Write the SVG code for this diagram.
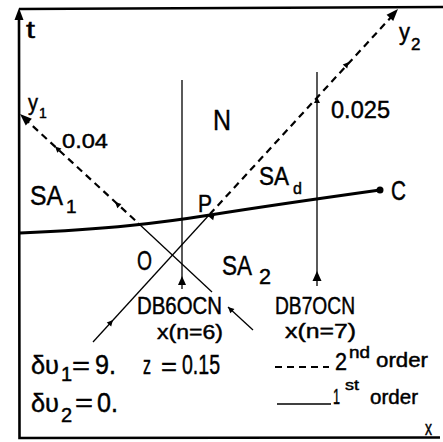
<svg xmlns="http://www.w3.org/2000/svg" width="443" height="442" viewBox="0 0 443 442">
<style>
text{font-family:"Liberation Sans",Arial,sans-serif;fill:#000;stroke:#000;stroke-width:0.45}
.frame{stroke:#000;stroke-width:2.6;fill:none}
.thin{stroke:#000;stroke-width:1.3;fill:none}
.dash{stroke:#000;stroke-width:2.2;fill:none;stroke-dasharray:7 5}
.curve{stroke:#000;stroke-width:2.8;fill:none}
</style>
<defs>
<path id="big" d="M0,0 L-12,-4.5 L-12,4.5 Z" fill="#000"/>
<path id="sm" d="M0,0 L-6,-3 L-6,3 Z" fill="#000"/>
</defs>
<rect width="443" height="442" fill="#fff"/>
<g id="axes">
<path class="frame" d="M19,20 L19.5,438 L440,437.5"/>
<path class="frame" d="M19,9 L443,7"/>
<use href="#big" transform="translate(19,8) rotate(-90)"/>
</g>
<g id="connectors">
<path class="dash" d="M24,118 L138,223"/>
<path class="thin" d="M138,223 L212,292"/>
<path class="thin" d="M228,307 L253,330"/>
<path class="dash" d="M393,15 L210,214"/>
<path class="thin" d="M210,214 L93,342"/>
<path class="thin" d="M182,80 L182,289"/>
<path class="thin" d="M317,72 L317,286"/>
<use href="#big" transform="translate(20,114) rotate(-137.2)"/>
<use href="#big" transform="translate(398,9) rotate(-47.5)"/>
<use href="#sm" transform="translate(55,146.5) rotate(-137.2)"/>
<use href="#sm" transform="translate(115,202) rotate(-137.2)"/>
<use href="#sm" transform="translate(228,307) rotate(-137.2)"/>
<use href="#sm" transform="translate(349,62) rotate(-47.5)"/>
<use href="#sm" transform="translate(113,320) rotate(-47.5)"/>
<use href="#sm" transform="translate(208,216) rotate(-167)"/>
<use href="#sm" transform="translate(317,97) rotate(-90)"/>
<path d="M182,276 L178,285 L186,285 Z" fill="#000"/>
<path d="M317,271 L312.5,281 L321.5,281 Z" fill="#000"/>
</g>
<g id="curveC">
<path class="curve" d="M20,233 C110,229 160,223 210,215 S330,197 380,190"/>
<circle cx="380" cy="190" r="3.5" fill="#000"/>
</g>
<g id="labels">
<text x="26" y="38" font-size="24" textLength="9" lengthAdjust="spacingAndGlyphs">t</text>
<text x="28" y="110" font-size="22" textLength="10" lengthAdjust="spacingAndGlyphs">y</text>
<text x="39" y="118" font-size="14">1</text>
<text x="62" y="148" font-size="21" textLength="46" lengthAdjust="spacingAndGlyphs">0.04</text>
<text x="213" y="130" font-size="30" textLength="18" lengthAdjust="spacingAndGlyphs">N</text>
<text x="331" y="118" font-size="24" textLength="59" lengthAdjust="spacingAndGlyphs">0.025</text>
<text x="399" y="40" font-size="24" textLength="11" lengthAdjust="spacingAndGlyphs">y</text>
<text x="411" y="50" font-size="17">2</text>
<text x="30" y="205" font-size="28" textLength="33" lengthAdjust="spacingAndGlyphs">SA</text>
<text x="66" y="213" font-size="19">1</text>
<text x="259" y="185" font-size="26" textLength="30" lengthAdjust="spacingAndGlyphs">SA</text>
<text x="293" y="194" font-size="16">d</text>
<text x="198" y="212" font-size="23" textLength="14" lengthAdjust="spacingAndGlyphs">P</text>
<text x="137" y="270" font-size="28" textLength="15" lengthAdjust="spacingAndGlyphs">O</text>
<text x="391" y="200" font-size="28" textLength="15" lengthAdjust="spacingAndGlyphs">C</text>
<text x="222" y="275" font-size="28" textLength="30" lengthAdjust="spacingAndGlyphs">SA</text>
<text x="259" y="284" font-size="22" textLength="12" lengthAdjust="spacingAndGlyphs">2</text>
<text x="137" y="314" font-size="24" textLength="85" lengthAdjust="spacingAndGlyphs">DB6OCN</text>
<text x="157" y="339" font-size="21" textLength="66" lengthAdjust="spacingAndGlyphs">x(n=6)</text>
<text x="275" y="314" font-size="24" textLength="80" lengthAdjust="spacingAndGlyphs">DB7OCN</text>
<text x="285" y="338" font-size="21" textLength="71" lengthAdjust="spacingAndGlyphs">x(n=7)</text>
<text x="31" y="374" font-size="26" textLength="28" lengthAdjust="spacingAndGlyphs">δυ</text>
<text x="61" y="381" font-size="20">1</text>
<text x="72" y="374" font-size="26" textLength="18" lengthAdjust="spacingAndGlyphs">=</text>
<text x="95" y="374" font-size="27" textLength="21" lengthAdjust="spacingAndGlyphs">9.</text>
<text x="31" y="412" font-size="26" textLength="28" lengthAdjust="spacingAndGlyphs">δυ</text>
<text x="61" y="422" font-size="20">2</text>
<text x="75" y="411" font-size="26" textLength="18" lengthAdjust="spacingAndGlyphs">=</text>
<text x="97" y="412" font-size="27" textLength="21" lengthAdjust="spacingAndGlyphs">0.</text>
<text x="143" y="374" font-size="25" textLength="8" lengthAdjust="spacingAndGlyphs">z</text>
<text x="161" y="375" font-size="25" textLength="16" lengthAdjust="spacingAndGlyphs">=</text>
<text x="182" y="374" font-size="27" textLength="38" lengthAdjust="spacingAndGlyphs">0.15</text>
</g>
<g id="legend">
<path class="dash" d="M275,367 L329,367" stroke-width="1.8" stroke-dasharray="7 4"/>
<text x="335" y="370" font-size="24" textLength="12" lengthAdjust="spacingAndGlyphs">2</text>
<text x="349" y="358" font-size="16" textLength="21" lengthAdjust="spacingAndGlyphs">nd</text>
<text x="376" y="367" font-size="20" textLength="52" lengthAdjust="spacingAndGlyphs">order</text>
<path class="thin" d="M277,404 L331,404" stroke-width="1.8"/>
<text x="333" y="404" font-size="22" textLength="7" lengthAdjust="spacingAndGlyphs">1</text>
<text x="345" y="390" font-size="15" textLength="14" lengthAdjust="spacingAndGlyphs">st</text>
<text x="370" y="404" font-size="20" textLength="48" lengthAdjust="spacingAndGlyphs">order</text>
<text x="425" y="435" font-size="20" textLength="7" lengthAdjust="spacingAndGlyphs">x</text>
</g>
</svg>
